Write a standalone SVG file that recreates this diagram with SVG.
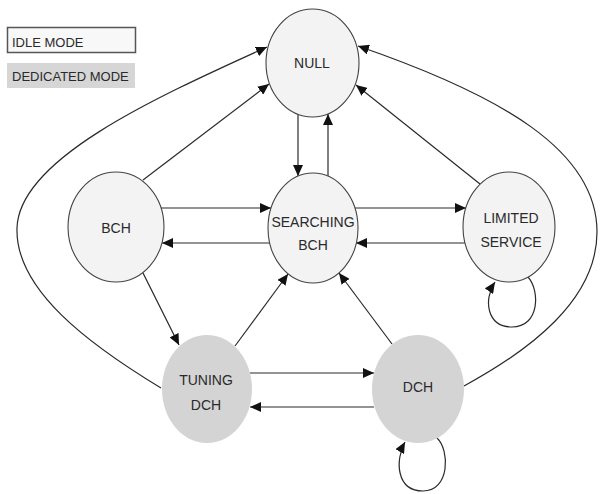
<svg xmlns="http://www.w3.org/2000/svg" width="602" height="494" viewBox="0 0 602 494">
<style>
.idle{fill:#f3f3f3;stroke:#444;stroke-width:1.1}
.ded{fill:#d4d4d4;stroke:none}
.lbl{font-family:"Liberation Sans",Arial,sans-serif;font-size:14px;fill:#2a2a2a;text-anchor:middle}
.leg{font-family:"Liberation Sans",Arial,sans-serif;font-size:13px;fill:#2a2a2a}
.c{fill:none;stroke:#2a2a2a;stroke-width:1.2;marker-end:url(#ah)}
</style>
<defs>
<marker id="ah" markerUnits="userSpaceOnUse" markerWidth="12" markerHeight="10" refX="11" refY="5" orient="auto">
<path d="M0,0 L11,5 L0,10 Z" fill="#111"/>
</marker>
</defs>
<rect width="602" height="494" fill="#fff"/>
<g id="legend">
<rect x="7.5" y="27.5" width="128" height="25" fill="#f8f8f8" stroke="#555" stroke-width="1.5"/>
<text class="leg" x="12" y="47">IDLE MODE</text>
<rect x="7" y="63" width="128" height="25" fill="#d6d6d6"/>
<text class="leg" x="12" y="81">DEDICATED MODE</text>
</g>
<g id="connectors">
<path class="c" d="M298,114 L298,176"/>
<path class="c" d="M328,176 L328,114"/>
<path class="c" d="M143,180 L269,84"/>
<path class="c" d="M161,388 C90,345 15,290 17,228 C19,160 150,100 267,47"/>
<path class="c" d="M161,208 L271,208"/>
<path class="c" d="M270,243 L162,243"/>
<path class="c" d="M355,208 L466,208"/>
<path class="c" d="M465,243 L356,243"/>
<path class="c" d="M480,184 L356,85"/>
<path class="c" d="M464,386 C530,350 597,300 597,232 C597,150 500,95 358,46"/>
<path class="c" d="M143,273 L179,345"/>
<path class="c" d="M235,346 L288,274"/>
<path class="c" d="M392,344 L339,273"/>
<path class="c" d="M250,373 L374,373"/>
<path class="c" d="M374,407 L250,407"/>
<path class="c" d="M528,277 C540,290 540,327 512,327 C487,327 483,300 495,282"/>
<path class="c" d="M437,438 C450,450 450,491 423,491 C396,491 395,460 405,442"/>
</g>
<g id="null">
<ellipse class="idle" cx="312.5" cy="63" rx="46.5" ry="54"/>
<text class="lbl" x="312" y="68">NULL</text>
</g>
<g id="bch">
<ellipse class="idle" cx="116" cy="227" rx="48" ry="55"/>
<text class="lbl" x="116" y="233">BCH</text>
</g>
<g id="searching-bch">
<ellipse class="idle" cx="313" cy="228" rx="45" ry="55"/>
<text class="lbl" x="313" y="227">SEARCHING</text>
<text class="lbl" x="313" y="250">BCH</text>
</g>
<g id="limited-service">
<ellipse class="idle" cx="509" cy="227" rx="46" ry="55"/>
<text class="lbl" x="511" y="223">LIMITED</text>
<text class="lbl" x="511" y="247">SERVICE</text>
</g>
<g id="tuning-dch">
<ellipse class="ded" cx="207" cy="389" rx="45" ry="54"/>
<text class="lbl" x="206" y="385">TUNING</text>
<text class="lbl" x="206" y="410">DCH</text>
</g>
<g id="dch">
<ellipse class="ded" cx="418" cy="389" rx="46" ry="54"/>
<text class="lbl" x="418" y="392">DCH</text>
</g>
</svg>
